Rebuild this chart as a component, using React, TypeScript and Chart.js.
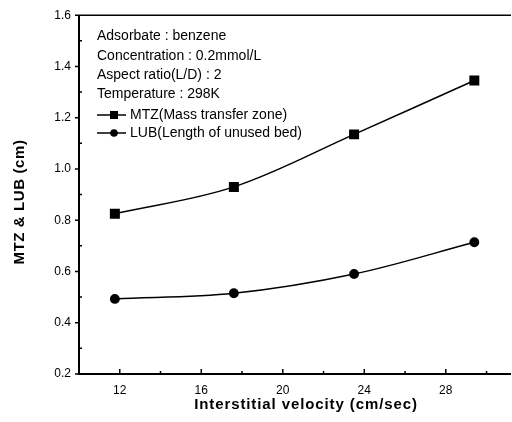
import { useEffect, useRef } from "react";
import { Chart, registerables } from "chart.js";

Chart.register(...registerables);

const velocity = [11.76, 17.6, 23.5, 29.4];
const mtzValues = [0.825, 0.93, 1.135, 1.345];
const lubValues = [0.493, 0.515, 0.59, 0.714];
const xTickValues = [12, 16, 20, 24, 28];
const xMinorValues = [14, 18, 22, 26, 30];
const yTickValues = [0.2, 0.4, 0.6, 0.8, 1.0, 1.2, 1.4, 1.6];
const yMinorValues = [0.3, 0.5, 0.7, 0.9, 1.1, 1.3, 1.5];
const infoLines = [
  "Adsorbate : benzene",
  "Concentration : 0.2mmol/L",
  "Aspect ratio(L/D) : 2",
  "Temperature : 298K",
];
const legendLabels = ["MTZ(Mass transfer zone)", "LUB(Length of unused bed)"];
const xTitle = "Interstitial velocity (cm/sec)";
const yTitle = "MTZ & LUB (cm)";

const FONT = '"Liberation Sans", Arial, sans-serif';

const decorPlugin = {
  id: "decor",
  afterDraw(chart: any) {
    const ctx = chart.ctx as CanvasRenderingContext2D;
    const area = chart.chartArea;
    const xs = chart.scales.x;
    const ys = chart.scales.y;
    ctx.save();
    ctx.strokeStyle = "#000";
    ctx.fillStyle = "#000";
    // axes
    ctx.lineWidth = 2;
    ctx.beginPath();
    ctx.moveTo(area.left, area.top);
    ctx.lineTo(area.left, area.bottom);
    ctx.lineTo(area.right, area.bottom);
    ctx.stroke();
    ctx.lineWidth = 1.5;
    ctx.beginPath();
    ctx.moveTo(area.left, area.top);
    ctx.lineTo(area.right, area.top);
    ctx.stroke();
    // ticks
    ctx.lineWidth = 1.5;
    ctx.beginPath();
    for (const v of xTickValues) {
      const px = xs.getPixelForValue(v);
      ctx.moveTo(px, area.bottom);
      ctx.lineTo(px, area.bottom - 5);
    }
    for (const v of xMinorValues) {
      const px = xs.getPixelForValue(v);
      ctx.moveTo(px, area.bottom);
      ctx.lineTo(px, area.bottom - 3);
    }
    for (const v of yTickValues) {
      const py = ys.getPixelForValue(v);
      ctx.moveTo(area.left, py);
      ctx.lineTo(area.left - 4, py);
    }
    for (const v of yMinorValues) {
      const py = ys.getPixelForValue(v);
      ctx.moveTo(area.left, py);
      ctx.lineTo(area.left + 3, py);
    }
    ctx.stroke();

    // info text
    ctx.font = `14px ${FONT}`;
    ctx.textAlign = "left";
    ctx.textBaseline = "middle";
    const tx = 97;
    const ty = [36, 56, 75, 94];
    infoLines.forEach((t, i) => ctx.fillText(t, tx, ty[i]));
    // legend
    const ly = [115, 133];
    legendLabels.forEach((t, i) => {
      const y = ly[i];
      ctx.lineWidth = 1.5;
      ctx.beginPath();
      ctx.moveTo(97, y);
      ctx.lineTo(126, y);
      ctx.stroke();
      if (i === 0) {
        ctx.fillRect(110, y - 4, 8, 8);
      } else {
        ctx.beginPath();
        ctx.arc(114, y, 3.8, 0, Math.PI * 2);
        ctx.fill();
      }
      ctx.fillText(t, 130, y);
    });

    // axis titles
    ctx.font = `bold 15px ${FONT}`;
    ctx.textAlign = "center";
    (ctx as any).letterSpacing = "0.9px";
    ctx.fillText(xTitle, 306, 405);
    (ctx as any).letterSpacing = "0.6px";
    ctx.translate(20, 202);
    ctx.rotate(-Math.PI / 2);
    ctx.fillText(yTitle, 0, 0);
    ctx.restore();
  },
};

export default function App() {
  const ref = useRef<HTMLCanvasElement | null>(null);
  useEffect(() => {
    if (!ref.current) return;
    const chart = new Chart(ref.current, {
      type: "line",
      data: {
        datasets: [
          {
            label: legendLabels[0],
            data: velocity.map((x, i) => ({ x, y: mtzValues[i] })),
            borderColor: "#000",
            backgroundColor: "#000",
            borderWidth: 1.5,
            pointStyle: "rect",
            pointRadius: 6,
            tension: 0.35,
          },
          {
            label: legendLabels[1],
            data: velocity.map((x, i) => ({ x, y: lubValues[i] })),
            borderColor: "#000",
            backgroundColor: "#000",
            borderWidth: 1.5,
            pointStyle: "circle",
            pointRadius: 4.2,
            tension: 0.35,
          },
        ],
      },
      options: {
        animation: false,
        responsive: false,
        maintainAspectRatio: false,
        layout: { autoPadding: false, padding: { top: 7, right: 1, left: 0, bottom: 0 } },
        plugins: { legend: { display: false }, tooltip: { enabled: false } },
        scales: {
          x: {
            type: "linear",
            min: 10,
            max: 31.2,
            afterBuildTicks: (s: any) => {
              s.ticks = xTickValues.map((v) => ({ value: v }));
            },
            afterFit: (s: any) => {
              s.height = 48;
            },
            grid: { display: false, drawTicks: false },
            border: { display: false },
            ticks: {
              padding: 9,
              color: "#000",
              font: { family: FONT, size: 12 },
              maxRotation: 0,
              callback: (v: any) => String(v),
            },
          },
          y: {
            type: "linear",
            min: 0.2,
            max: 1.6,
            afterBuildTicks: (s: any) => {
              s.ticks = yTickValues.map((v) => ({ value: v }));
            },
            afterFit: (s: any) => {
              s.width = 79;
            },
            grid: { display: false, drawTicks: false },
            border: { display: false },
            ticks: {
              padding: 8,
              color: "#000",
              font: { family: FONT, size: 12 },
              callback: (v: any) => Number(v).toFixed(1),
            },
          },
        },
      },
      plugins: [decorPlugin],
    } as any);
    return () => chart.destroy();
  }, []);
  return (
    <div style={{ position: "fixed", left: 0, top: 0, width: 512, height: 422, background: "#fff" }}>
      <canvas ref={ref} width={512} height={422} />
    </div>
  );
}
